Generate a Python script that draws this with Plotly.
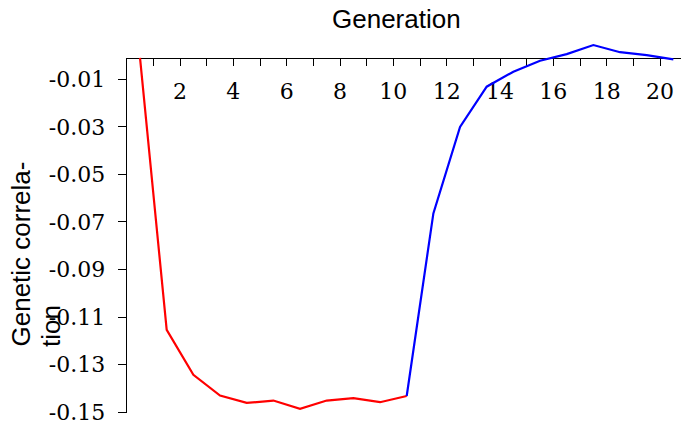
import plotly.graph_objects as go

# Genetic correlation per generation, two phases
gen_phase1 = [0.5, 1.5, 2.5, 3.5, 4.5, 5.5, 6.5, 7.5, 8.5, 9.5, 10.5]
corr_phase1 = [-0.001, -0.1154, -0.1343, -0.1430, -0.1461, -0.1451,
               -0.1486, -0.1451, -0.1441, -0.1458, -0.1432]

gen_phase2 = [10.5, 11.5, 12.5, 13.5, 14.5, 15.5, 16.5, 17.5, 18.5, 19.5, 20.5]
corr_phase2 = [-0.1432, -0.0664, -0.0300, -0.0131, -0.0068, -0.0022,
               0.0006, 0.0044, 0.0014, 0.0002, -0.0016]

x_tick_vals = [2, 4, 6, 8, 10, 12, 14, 16, 18, 20]
y_tick_vals = [-0.01, -0.03, -0.05, -0.07, -0.09, -0.11, -0.13, -0.15]
y_tick_text = ["-0.01", "-0.03", "-0.05", "-0.07", "-0.09", "-0.11", "-0.13", "-0.15"]

W, H = 681, 423


def px_x(p):
    return p / W


def px_y(p):
    return 1 - p / H


# pixel geometry of the frame
left_px = 126.7
axis_top_px = 57.7
axis_bot_px = 412.2
px_per_gen = 26.667
px_per_unit = (axis_bot_px - 79.3) / 0.14
y_min = -0.1502
y_bot_px = axis_bot_px + 0.0002 * px_per_unit
y_top_axis = -0.15 + (axis_bot_px - axis_top_px) / px_per_unit
clip_top_px = 20
y_top_data = -0.15 + (axis_bot_px - clip_top_px) / px_per_unit

fig = go.Figure()
# empty trace so the framed (axis-bearing) subplot is created
fig.add_trace(go.Scatter(x=[], y=[], xaxis="x", yaxis="y", showlegend=False,
                         hoverinfo="skip"))
fig.add_trace(go.Scatter(x=gen_phase1, y=corr_phase1, mode="lines",
                         line=dict(color="#ff0000", width=2.2),
                         xaxis="x", yaxis="y2", showlegend=False))
fig.add_trace(go.Scatter(x=gen_phase2, y=corr_phase2, mode="lines",
                         line=dict(color="#0000ff", width=2.2),
                         xaxis="x", yaxis="y2", showlegend=False))

serif = "DejaVu Serif"
sans = "Liberation Sans"
tick_size = 22

fig.update_layout(
    width=W, height=H,
    margin=dict(l=0, r=0, t=0, b=0),
    paper_bgcolor="white", plot_bgcolor="rgba(0,0,0,0)",
    xaxis=dict(
        domain=[px_x(left_px), 1.0],
        range=[0, (W - left_px) / px_per_gen],
        anchor="free", position=px_y(axis_top_px), side="bottom",
        automargin=False,
        showgrid=False, zeroline=False,
        showline=True, linecolor="black", linewidth=1.3,
        ticks="outside", ticklen=7, tickwidth=1.3, tickcolor="black",
        tickvals=x_tick_vals,
        minor=dict(dtick=1, tick0=0, ticks="outside", ticklen=7, tickwidth=1.3,
                   tickcolor="black", showgrid=False),
        tickfont=dict(family=serif, size=tick_size, color="black"),
        ticklabelstandoff=7,
    ),
    yaxis=dict(
        domain=[px_y(y_bot_px), px_y(axis_top_px)],
        range=[y_min, y_top_axis],
        anchor="x", automargin=False,
        showgrid=False, zeroline=False,
        showline=True, linecolor="black", linewidth=1.3,
        ticks="outside", ticklen=8, tickwidth=1.3, tickcolor="black",
        tickvals=y_tick_vals, ticktext=y_tick_text,
        tickfont=dict(family=serif, size=tick_size, color="black"),
        ticklabelstandoff=8, ticklabeloverflow="allow",
    ),
    yaxis2=dict(
        domain=[px_y(y_bot_px), px_y(clip_top_px)],
        range=[y_min, y_top_data],
        anchor="x", visible=False, automargin=False,
    ),
    annotations=[
        dict(text="Generation", xref="paper", yref="paper",
             x=px_x(396.7), y=px_y(19), xanchor="center", yanchor="middle",
             showarrow=False, font=dict(family=sans, size=26, color="black")),
        dict(text="Genetic correla-", xref="paper", yref="paper",
             x=px_x(20), y=px_y(349), xanchor="center", yanchor="bottom",
             textangle=-90, showarrow=False,
             font=dict(family=sans, size=26, color="black")),
        dict(text="tion", xref="paper", yref="paper",
             x=px_x(51), y=px_y(349), xanchor="center", yanchor="bottom",
             textangle=-90, showarrow=False,
             font=dict(family=sans, size=26, color="black")),
    ],
)

fig.write_html("out.html")
